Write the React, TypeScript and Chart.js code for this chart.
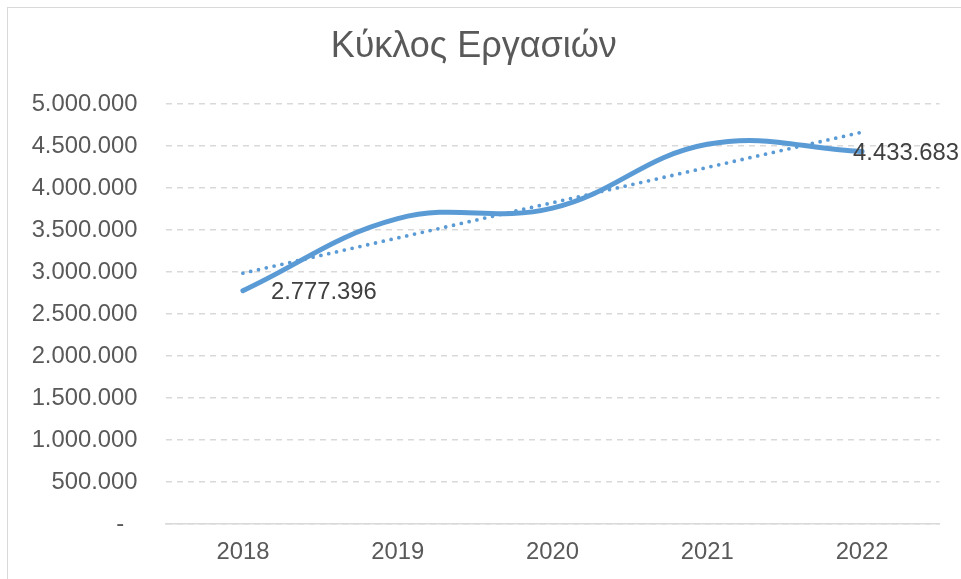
import React, { useEffect, useRef } from "react";
import { Chart, registerables } from "chart.js";

Chart.register(...registerables);

const TITLE = "Κύκλος Εργασιών";
const YEARS = ["2018", "2019", "2020", "2021", "2022"];
const TURNOVER = [2777396, 3635000, 3760000, 4520000, 4433683];
const Y_MIN = 0;
const Y_MAX = 5000000;
const Y_STEP = 500000;

const BLUE = "#5B9BD5";
const FONT = "'Liberation Sans', Arial, sans-serif";

function fmt(v: number): string {
  if (v === 0) return "-\u00a0\u00a0";
  return Math.round(v)
    .toString()
    .replace(/\B(?=(\d{3})+(?!\d))/g, ".");
}

function linearTrend(values: number[]): number[] {
  const n = values.length;
  const xs = values.map((_, i) => i);
  const mx = xs.reduce((a, b) => a + b, 0) / n;
  const my = values.reduce((a, b) => a + b, 0) / n;
  let num = 0;
  let den = 0;
  for (let i = 0; i < n; i++) {
    num += (xs[i] - mx) * (values[i] - my);
    den += (xs[i] - mx) * (xs[i] - mx);
  }
  const slope = num / den;
  const icpt = my - slope * mx;
  return xs.map((x) => icpt + slope * x);
}

const endLabels = {
  id: "endLabels",
  afterDatasetsDraw(chart: any) {
    const meta = chart.getDatasetMeta(0);
    const pts = meta.data;
    if (!pts.length) return;
    const ctx = chart.ctx;
    ctx.save();
    ctx.font = `23.8px ${FONT}`;
    ctx.fillStyle = "#404040";
    ctx.textBaseline = "middle";
    ctx.textAlign = "left";
    const first = pts[0];
    const last = pts[pts.length - 1];
    ctx.fillText(fmt(TURNOVER[0]), first.x + 28, first.y + 2);
    ctx.fillText(fmt(TURNOVER[TURNOVER.length - 1]), last.x - 9, last.y + 2);
    ctx.restore();
  },
};

export default function App() {
  const ref = useRef<HTMLCanvasElement | null>(null);

  useEffect(() => {
    if (!ref.current) return;
    const chart = new Chart(ref.current, {
      type: "line",
      data: {
        labels: YEARS,
        datasets: [
          {
            label: "Κύκλος Εργασιών",
            data: TURNOVER,
            borderColor: BLUE,
            borderWidth: 5,
            borderCapStyle: "round",
            borderJoinStyle: "round",
            tension: 0.4,
            pointRadius: 0,
            fill: false,
            clip: false as any,
            order: 1,
          },
          {
            label: "Trend",
            data: linearTrend(TURNOVER),
            borderColor: BLUE,
            borderWidth: 3.8,
            borderDash: [0, 8],
            borderCapStyle: "round",
            tension: 0,
            pointRadius: 0,
            fill: false,
            clip: false as any,
            order: 0,
          },
        ],
      },
      options: {
        animation: false,
        responsive: false,
        devicePixelRatio: 1,
        layout: { padding: { left: 0, right: 29.5, top: 0, bottom: 0 } },
        plugins: {
          legend: { display: false },
          tooltip: { enabled: false },
          title: {
            display: true,
            text: TITLE,
            color: "#595959",
            font: { family: FONT, size: 36, weight: "normal" as any },
            padding: { top: 17.5, bottom: 35.3 },
          },
        },
        scales: {
          x: {
            offset: true,
            grid: { display: false, drawTicks: false },
            border: { display: true, color: "#d9d9d9", width: 1.5 },
            ticks: {
              color: "#595959",
              font: { family: FONT, size: 23.8 },
              padding: 14,
              maxRotation: 0,
            },
            afterFit: (s: any) => {
              s.height = 55;
            },
          },
          y: {
            min: Y_MIN,
            max: Y_MAX,
            grid: { color: "#d9d9d9", lineWidth: 1.5, drawTicks: false },
            border: { display: false, dash: [6, 5] },
            ticks: {
              stepSize: Y_STEP,
              color: "#595959",
              font: { family: FONT, size: 23.8 },
              padding: 28,
              callback: (v: any) => fmt(Number(v)),
            },
            afterFit: (s: any) => {
              s.width = 157.5;
            },
          },
        },
      },
      plugins: [endLabels],
    });
    return () => chart.destroy();
  }, []);

  return (
    <div>
      <div
        style={{
          position: "fixed",
          left: 7,
          top: 7,
          width: 1100,
          height: 800,
          border: "1px solid #d9d9d9",
          background: "#ffffff",
        }}
      />
      <canvas
        ref={ref}
        width={961}
        height={571}
        style={{ position: "fixed", left: 8, top: 8, width: 961, height: 571 }}
      />
    </div>
  );
}
